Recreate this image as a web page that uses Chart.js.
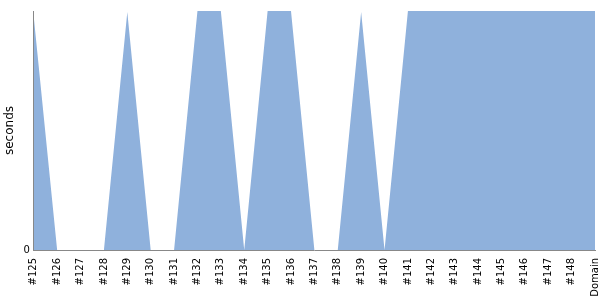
<!DOCTYPE html>
<html><head><meta charset="utf-8">
<script src="https://cdn.jsdelivr.net/npm/chart.js@4"></script>
<style>html,body{margin:0;padding:0;background:#fff}#w{width:600px;height:300px}</style>
</head><body><div id="w"><canvas id="c"></canvas></div>
<script>
const categories = ['#125','#126','#127','#128','#129','#130','#131','#132','#133','#134','#135','#136','#137','#138','#139','#140','#141','#142','#143','#144','#145','#146','#147','#148','Domain'];
const seconds = [0.975,0,0,0,0.996,0,0,1,1,0,1,1,0,0,0.996,0,1,1,1,1,1,1,1,1,1];
const yTicks = [0];

new Chart(document.getElementById('c'), {
  type: 'line',
  data: { labels: categories, datasets: [{
    data: seconds, fill: 'origin', backgroundColor: 'rgb(143,177,220)',
    borderWidth: 0, borderColor: 'rgba(0,0,0,0)', pointRadius: 0, tension: 0
  }]},
  options: {
    animation: false, responsive: true, maintainAspectRatio: false,
    layout: { padding: { top: 11, right: 5, left: 1, bottom: 0 } },
    plugins: { legend: { display: false }, tooltip: { enabled: false } },
    scales: {
      x: { offset: false, grid: { display: false, drawTicks: false },
           border: { display: true, color: '#888' },
           afterFit: s => { s.paddingRight = 0; s.paddingLeft = 0; s.height = 50; },
           ticks: { minRotation: 90, maxRotation: 90, autoSkip: false, padding: 8,
                    color: '#000', font: { family: 'DejaVu Sans', size: 10 } } },
      y: { min: 0, max: 1, grid: { display: false, drawTicks: false },
           border: { display: true, color: '#888' },
           afterBuildTicks: s => { s.ticks = yTicks.map(v => ({ value: v })); },
           ticks: { padding: 4, color: '#000', font: { family: 'DejaVu Sans', size: 10 } },
           title: { display: true, text: 'seconds', color: '#000', padding: 2,
                    font: { family: 'DejaVu Sans', size: 12 } } }
    }
  }
});
</script></body></html>
